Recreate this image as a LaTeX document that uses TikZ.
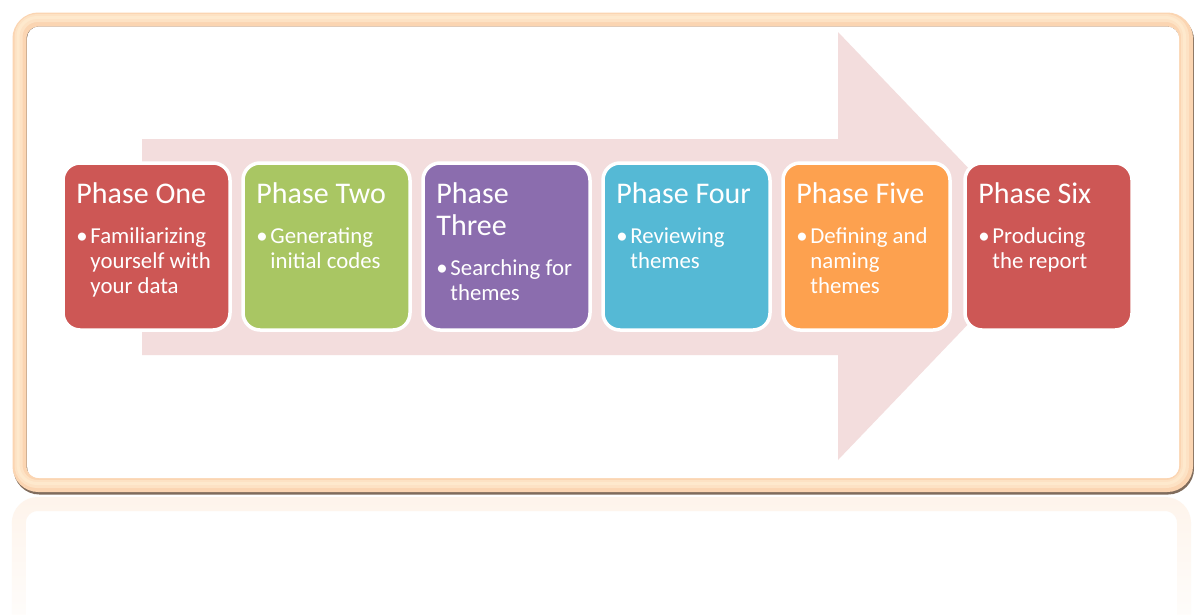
\documentclass[tikz,border=0pt]{standalone}
\usepackage{fontspec}
\setmainfont{Carlito}
\usetikzlibrary{calc,fadings}

\definecolor{phred}{RGB}{205,87,85}
\definecolor{phgreen}{RGB}{169,198,99}
\definecolor{phpurple}{RGB}{139,109,174}
\definecolor{phblue}{RGB}{85,185,213}
\definecolor{phorange}{RGB}{253,161,79}
\definecolor{arrowpink}{RGB}{243,221,221}
\definecolor{framepeach}{RGB}{251,213,178}
\definecolor{framecream}{RGB}{255,240,215}
\definecolor{frameshadow}{RGB}{128,108,92}

\tikzfading[name=reflfade, top color=transparent!75, bottom color=transparent!100]

\tikzset{
  phasebox/.style={draw=white, line width=3.5pt, rounded corners=17pt,
    minimum width=167pt, minimum height=167pt, inner sep=0pt},
  titletext/.style={anchor=base west, inner sep=0pt, text=white,
    font=\fontsize{30}{32}\selectfont},
  bullettext/.style={anchor=base west, inner sep=0pt, text=white,
    font=\fontsize{22.8}{25}\selectfont},
  framepath/.style={rounded corners=19pt}
}

% title and bullet list of one phase box
\newcommand{\phtitle}[1]{\parbox[t]{150pt}{\raggedright #1}}
\newcommand{\phbullet}[1]{\parbox[t]{200pt}{\raggedright\hangindent=14pt\hangafter=1
  \makebox[14pt][l]{\textbullet}#1}}

\begin{document}
\begin{tikzpicture}[x=1pt,y=-1pt]
\useasboundingbox (0,0) rectangle (1194,614);
\fill[white] (0,0) rectangle (1194,614);

% faint mirror image of the frame below it
\draw[line width=14pt, framepeach, path fading=reflfade, framepath]
  (19.5,640) -- (19.5,504) -- (1186,504) -- (1186,640);

% frame: shadow, peach tube, soft highlight, white panel
\draw[line width=14pt, frameshadow, framepath] (20.5,21.5) rectangle (1187,487.5);
\draw[line width=14pt, framepeach, framepath] (19.5,19.5) rectangle (1186,485);
\draw[line width=8pt, framecream, opacity=0.5, framepath] (18.5,18) rectangle (1185,484);
\draw[line width=3pt, framecream, opacity=0.5, framepath] (18,17.5) rectangle (1184.5,483.5);
\fill[white, rounded corners=12pt] (27,26.5) rectangle (1179,478);

% large pale arrow behind the phases
\fill[arrowpink] (142,139) -- (838,139) -- (838,32) -- (1043,246)
  -- (838,460) -- (838,355) -- (142,355) -- cycle;

% phase boxes
\node[phasebox, fill=phred]    (p1) at (146.5,246.5) {};
\node[phasebox, fill=phgreen]  (p2) at (326.5,246.5) {};
\node[phasebox, fill=phpurple] (p3) at (506.5,246.5) {};
\node[phasebox, fill=phblue]   (p4) at (686.5,246.5) {};
\node[phasebox, fill=phorange] (p5) at (866.5,246.5) {};
\node[phasebox, fill=phred]    (p6) at (1048.5,246.5) {};

% titles
\node[titletext] (p1t) at ($(p1.north west)+(15,42)$) {\phtitle{Phase One}};
\node[titletext] (p2t) at ($(p2.north west)+(15,42)$) {\phtitle{Phase Two}};
\node[titletext] (p3t) at ($(p3.north west)+(15,42)$) {\phtitle{Phase\\Three}};
\node[titletext] (p4t) at ($(p4.north west)+(15,42)$) {\phtitle{Phase Four}};
\node[titletext] (p5t) at ($(p5.north west)+(15,42)$) {\phtitle{Phase Five}};
\node[titletext] (p6t) at ($(p6.north west)+(15,42)$) {\phtitle{Phase Six}};

% bullet points
\node[bullettext] (p1b) at ($(p1.north west)+(15,82)$)
  {\phbullet{Familiarizing\newline yourself with\newline your data}};
\node[bullettext] (p2b) at ($(p2.north west)+(15,82)$)
  {\phbullet{Generating\newline initial codes}};
\node[bullettext] (p3b) at ($(p3.north west)+(15,114)$)
  {\phbullet{Searching for\newline themes}};
\node[bullettext] (p4b) at ($(p4.north west)+(15,82)$)
  {\phbullet{Reviewing\newline themes}};
\node[bullettext] (p5b) at ($(p5.north west)+(15,82)$)
  {\phbullet{Defining and\newline naming\newline themes}};
\node[bullettext] (p6b) at ($(p6.north west)+(15,82)$)
  {\phbullet{Producing\newline the report}};
\end{tikzpicture}
\end{document}
